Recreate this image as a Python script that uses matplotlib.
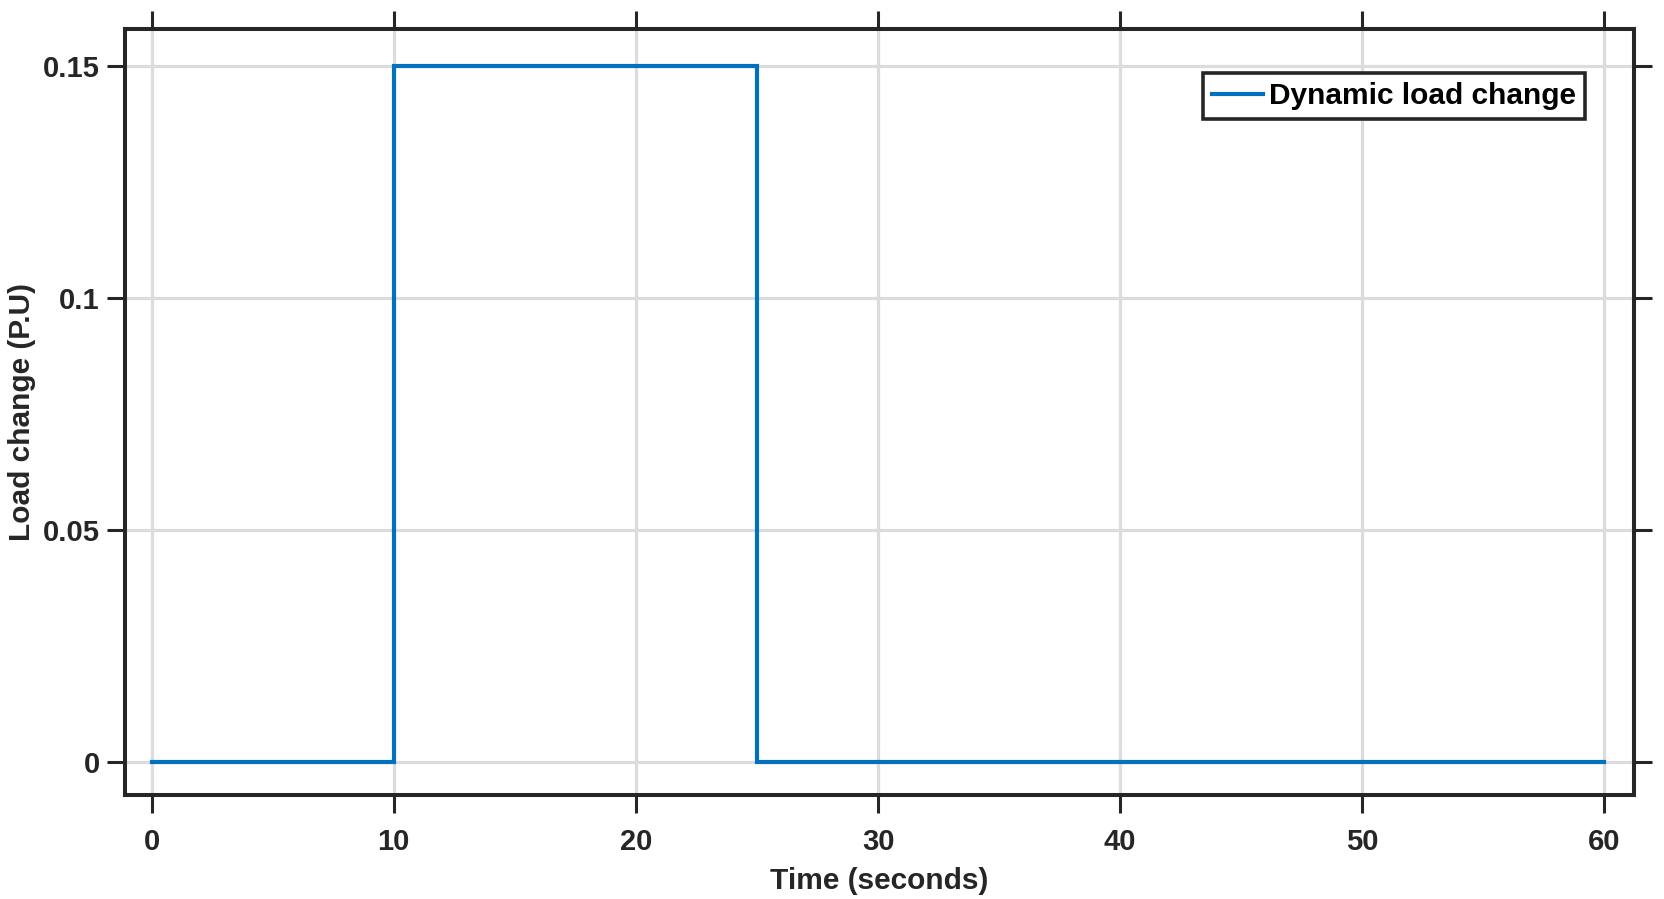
import matplotlib
matplotlib.use("Agg")
import matplotlib.pyplot as plt
from matplotlib.ticker import FixedLocator, FixedFormatter

# Data
time_s = [0, 10, 25, 60]
load_change = [0, 0.15, 0, 0]
series_label = "Dynamic load change"
x_ticks = [0, 10, 20, 30, 40, 50, 60]
x_tick_labels = ["0", "10", "20", "30", "40", "50", "60"]
y_ticks = [0, 0.05, 0.1, 0.15]
y_tick_labels = ["0", "0.05", "0.1", "0.15"]

plt.rcParams['font.family'] = ['Liberation Sans', 'DejaVu Sans']
plt.rcParams['font.weight'] = 'bold'

dark = '#262626'
fig = plt.figure(figsize=(16.64, 8.99), dpi=100)
ax = fig.add_axes([0.0751, 0.1157, 0.9066, 0.852])

ax.plot(time_s, load_change, drawstyle='steps-post', color='#0072BD',
        linewidth=3.0, label=series_label, zorder=3, solid_joinstyle='miter')

ax.set_xlim(-1.1, 61.2)
ax.set_ylim(-0.0071, 0.158)

ax.xaxis.set_major_locator(FixedLocator(x_ticks))
ax.xaxis.set_major_formatter(FixedFormatter(x_tick_labels))
ax.yaxis.set_major_locator(FixedLocator(y_ticks))
ax.yaxis.set_major_formatter(FixedFormatter(y_tick_labels))

ax.grid(True, color='#dcdcdc', linewidth=2.3, zorder=0)
ax.set_axisbelow(True)

for s in ax.spines.values():
    s.set_linewidth(2.9)
    s.set_color(dark)

ax.tick_params(axis='both', which='major', direction='out', length=13,
               width=2.2, color=dark, labelcolor=dark, labelsize=21,
               top=True, right=True)
ax.tick_params(axis='x', pad=11)
ax.tick_params(axis='y', pad=5)
for lbl in ax.get_xticklabels() + ax.get_yticklabels():
    lbl.set_fontweight('bold')

ax.set_xlabel('Time (seconds)', fontsize=21.5, fontweight='bold', color=dark, labelpad=8)
ax.set_ylabel('Load change (P.U)', fontsize=21.5, fontweight='bold', color=dark, labelpad=5)

leg = ax.legend(loc='upper right', bbox_to_anchor=(0.9676, 0.942),
                borderaxespad=0, fancybox=False, framealpha=1,
                prop={'size': 21.5, 'weight': 'bold'}, handlelength=1.7,
                handletextpad=0.2, borderpad=0.3)
leg.get_frame().set_edgecolor(dark)
leg.get_frame().set_linewidth(2.6)
for t in leg.get_texts():
    t.set_color('black')

fig.savefig('out.png', dpi=100)
